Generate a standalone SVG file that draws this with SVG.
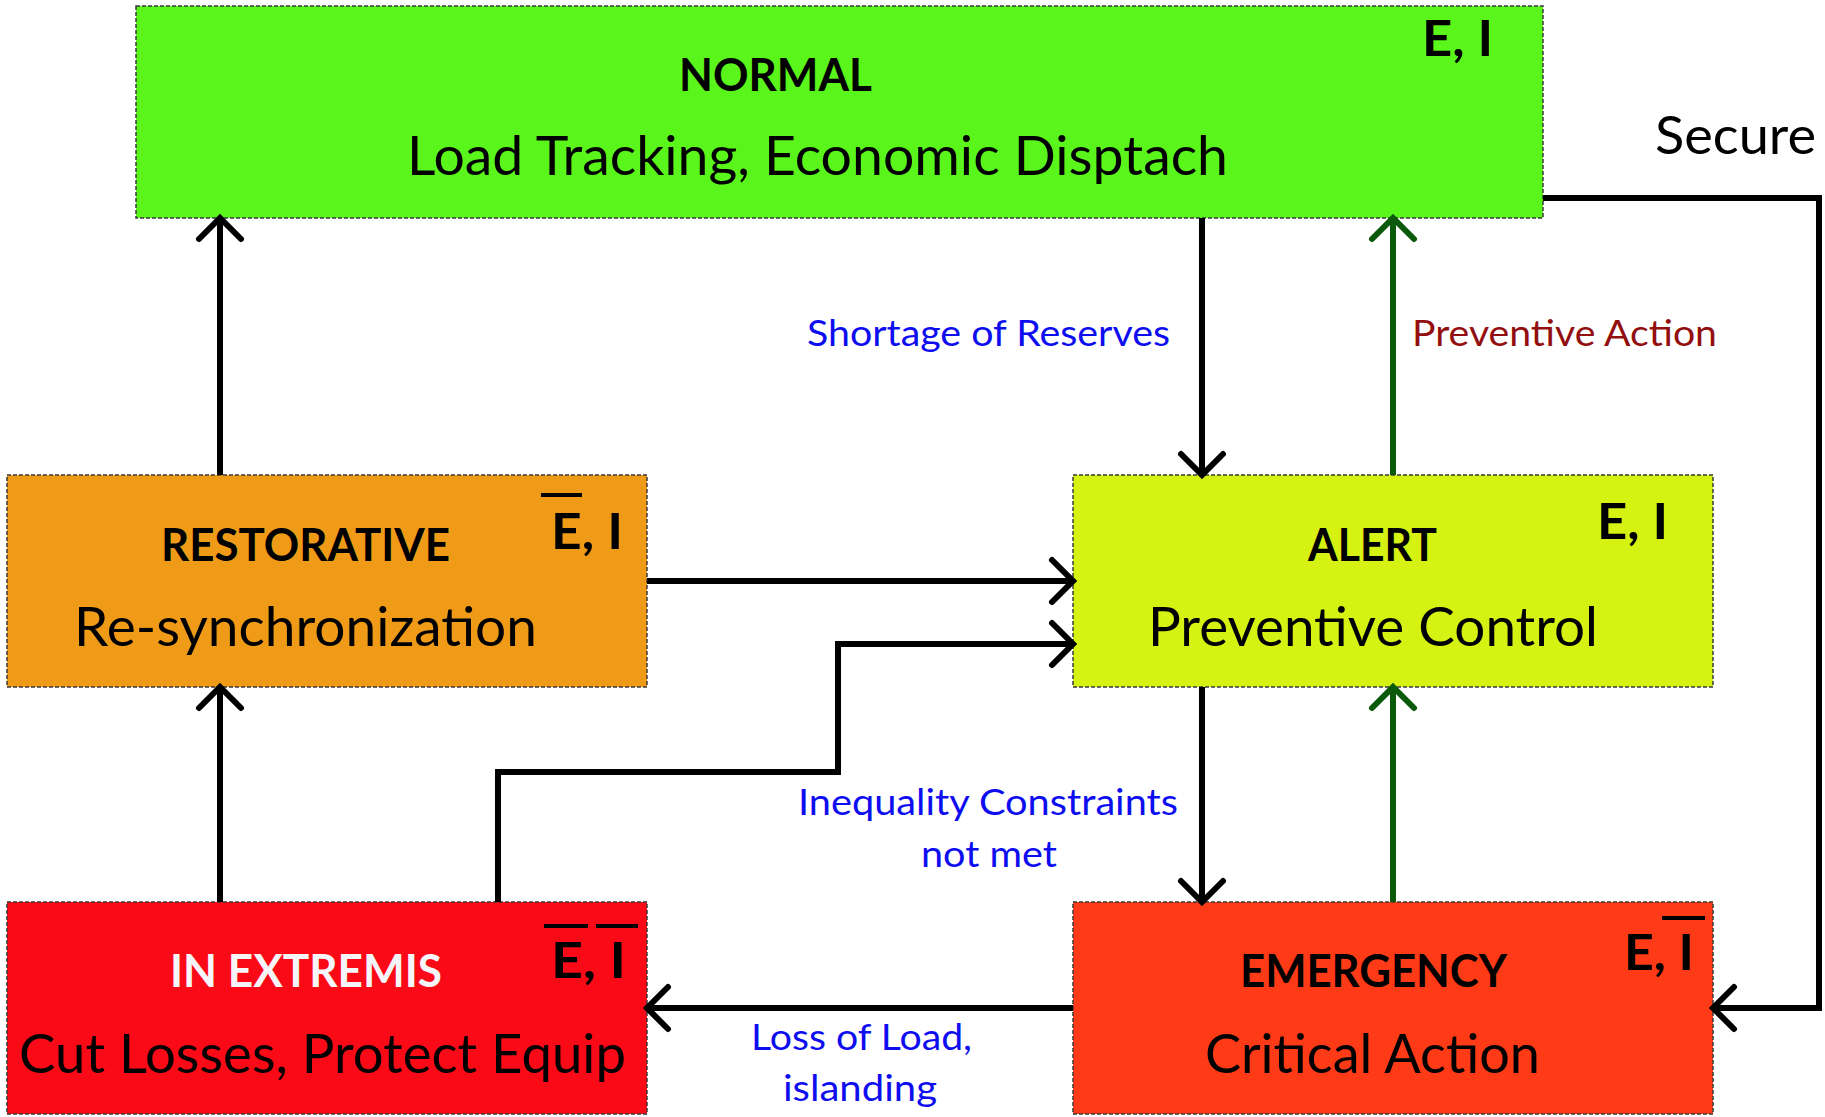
<svg xmlns="http://www.w3.org/2000/svg" width="1825" height="1117" viewBox="0 0 1825 1117">
<defs>
<style>
.box{stroke:#3a3a3a;stroke-width:1.5;stroke-dasharray:4 2}
.t{font-family:Lato,"Open Sans","Liberation Sans",sans-serif;fill:#000}
.b{font-weight:bold}
.title{font-size:46px;font-weight:bold}
.sub{font-size:54px}
.ei{font-size:50px;font-weight:bold}
.lbl{font-size:37px}
.blue{fill:#0d0df0}
.dred{fill:#930f0f}
.ov{stroke:#000;stroke-width:4}
.c{fill:none;stroke:#000;stroke-width:6;stroke-linejoin:miter}
.g{stroke:#0b5a0b}
</style>
<marker id="ab" markerUnits="userSpaceOnUse" viewBox="-30 -30 60 60" markerWidth="60" markerHeight="60" refX="0" refY="0" orient="auto">
<path d="M-21,-21 L0,0 L-21,21" fill="none" stroke="#000" stroke-width="6" stroke-linecap="round"/>
</marker>
<marker id="ag" markerUnits="userSpaceOnUse" viewBox="-30 -30 60 60" markerWidth="60" markerHeight="60" refX="0" refY="0" orient="auto">
<path d="M-21,-21 L0,0 L-21,21" fill="none" stroke="#0b5a0b" stroke-width="6" stroke-linecap="round"/>
</marker>
</defs>
<rect width="1825" height="1117" fill="#fff"/>

<g id="normal">
<rect class="box" x="136" y="6" width="1407" height="212" fill="#5af51a"/>
<text class="t title" x="679" y="91" textLength="193" lengthAdjust="spacingAndGlyphs">NORMAL</text>
<text class="t sub" x="407" y="175" textLength="821" lengthAdjust="spacingAndGlyphs">Load Tracking, Economic Disptach</text>
<text class="t ei" x="1422" y="56" textLength="71" lengthAdjust="spacingAndGlyphs">E, I</text>
</g>

<g id="restorative">
<rect class="box" x="7" y="475" width="640" height="212" fill="#ef9b17"/>
<text class="t title" x="161" y="561" textLength="289" lengthAdjust="spacingAndGlyphs">RESTORATIVE</text>
<text class="t sub" x="74" y="646" textLength="463" lengthAdjust="spacingAndGlyphs">Re-synchronization</text>
<text class="t ei" x="551" y="549" textLength="72" lengthAdjust="spacingAndGlyphs">E, I</text>
<line class="ov" x1="541" y1="495" x2="582" y2="495"/>
</g>

<g id="alert">
<rect class="box" x="1073" y="475" width="640" height="212" fill="#d6f213"/>
<text class="t title" x="1308" y="561" textLength="129" lengthAdjust="spacingAndGlyphs">ALERT</text>
<text class="t sub" x="1148" y="646" textLength="450" lengthAdjust="spacingAndGlyphs">Preventive Control</text>
<text class="t ei" x="1597" y="539" textLength="71" lengthAdjust="spacingAndGlyphs">E, I</text>
</g>

<g id="in-extremis">
<rect class="box" x="7" y="902" width="640" height="212" fill="#fa0a17"/>
<text class="t title" x="170" y="987" textLength="272" lengthAdjust="spacingAndGlyphs" style="fill:#f6f6fa">IN EXTREMIS</text>
<text class="t sub" x="19" y="1073" textLength="607" lengthAdjust="spacingAndGlyphs">Cut Losses, Protect Equip</text>
<text class="t ei" x="551" y="978" textLength="75" lengthAdjust="spacingAndGlyphs">E, I</text>
<line class="ov" x1="544" y1="926" x2="588" y2="926"/>
<line class="ov" x1="596" y1="926" x2="638" y2="926"/>
</g>

<g id="emergency">
<rect class="box" x="1073" y="902" width="640" height="212" fill="#ff3a16"/>
<text class="t title" x="1240" y="987" textLength="267" lengthAdjust="spacingAndGlyphs">EMERGENCY</text>
<text class="t sub" x="1205" y="1073" textLength="335" lengthAdjust="spacingAndGlyphs">Critical Action</text>
<text class="t ei" x="1624" y="970" textLength="70" lengthAdjust="spacingAndGlyphs">E, I</text>
<line class="ov" x1="1662" y1="918" x2="1705" y2="918"/>
</g>

<g id="connectors">
<path class="c" d="M220,475 V218" marker-end="url(#ab)"/>
<path class="c" d="M220,902 V687" marker-end="url(#ab)"/>
<path class="c" d="M498,902 V772 H838 V644 H1073" marker-end="url(#ab)"/>
<path class="c" d="M647,581 H1073" marker-end="url(#ab)"/>
<path class="c" d="M1202,218 V475" marker-end="url(#ab)"/>
<path class="c g" d="M1393,475 V218" marker-end="url(#ag)"/>
<path class="c" d="M1202,687 V902" marker-end="url(#ab)"/>
<path class="c g" d="M1393,902 V687" marker-end="url(#ag)"/>
<path class="c" d="M1073,1008 H647" marker-end="url(#ab)"/>
<path class="c" d="M1543,198 H1819 V1008 H1713" marker-end="url(#ab)"/>
</g>

<g id="labels">
<text class="t" x="1655" y="154" font-size="52" textLength="161" lengthAdjust="spacingAndGlyphs">Secure</text>
<text class="t lbl blue" x="807" y="346" textLength="363" lengthAdjust="spacingAndGlyphs">Shortage of Reserves</text>
<text class="t lbl dred" x="1412" y="346" textLength="305" lengthAdjust="spacingAndGlyphs">Preventive Action</text>
<text class="t lbl blue" x="798" y="815" textLength="380" lengthAdjust="spacingAndGlyphs">Inequality Constraints</text>
<text class="t lbl blue" x="921" y="867" textLength="136" lengthAdjust="spacingAndGlyphs">not met</text>
<text class="t lbl blue" x="751" y="1050" textLength="221" lengthAdjust="spacingAndGlyphs">Loss of Load,</text>
<text class="t lbl blue" x="783" y="1101" textLength="154" lengthAdjust="spacingAndGlyphs">islanding</text>
</g>
</svg>
